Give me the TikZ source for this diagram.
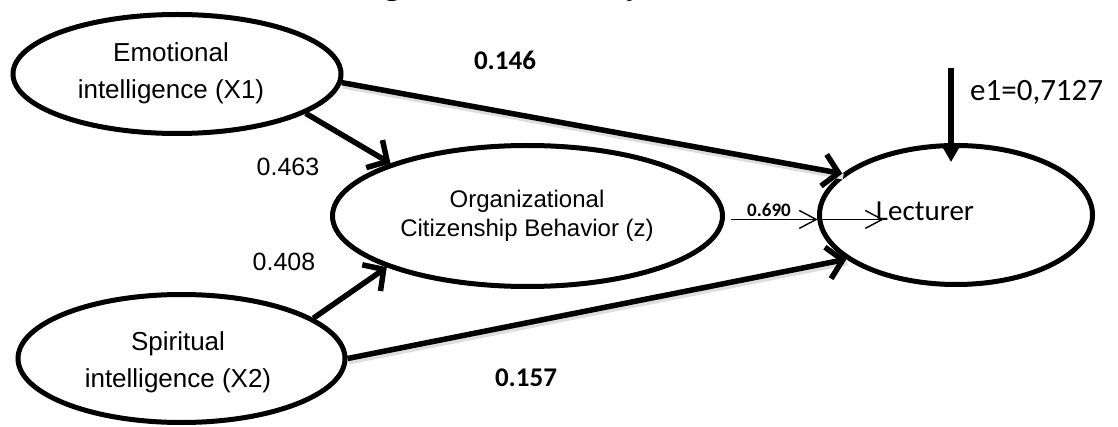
\documentclass[tikz,border=0pt]{standalone}
\usepackage{fontspec}
\usetikzlibrary{arrows.meta,shapes.geometric}
\newfontfamily\arialf{Liberation Sans}
\newfontfamily\califont{Carlito}
\newfontfamily\titlef{Liberation Serif}
\begin{document}
\begin{tikzpicture}[x=1pt,y=-1pt,
  ell/.style={draw, ellipse, line width=5pt, inner sep=0pt},
  lbl/.style={align=center, inner sep=0pt, font=\arialf\fontsize{26}{37}\selectfont},
  thickarr/.style={line width=5.5pt, -{Straight Barb[length=15pt,width=32pt]}},
  thinarr/.style={line width=1.4pt, -{Straight Barb[length=17pt,width=18pt]}},
  shadowline/.style={line width=6pt, draw=black!13, transform canvas={xshift=1pt,yshift=-3pt}},
  coef/.style={inner sep=0pt, font=\arialf\fontsize{25}{30}\selectfont},
  bcoef/.style={inner sep=0pt, font=\califont\bfseries\fontsize{27}{30}\selectfont}]
\useasboundingbox (0,0) rectangle (1118,427);
\begin{scope}
\clip (0,0) rectangle (1118,427);
\node[anchor=base, inner sep=0pt, font=\titlef\bfseries\fontsize{32}{36}\selectfont] (title) at (516,-5) {Figure 2. Path Analysis};
\end{scope}
% ellipses
\node[ell, minimum width=328pt, minimum height=119pt] (x1) at (177,74) {};
\node[ell, minimum width=327pt, minimum height=128pt] (x2) at (181.5,358.5) {};
\node[ell, minimum width=390pt, minimum height=141pt] (ocb) at (527.5,216) {};
\node[ell, minimum width=273pt, minimum height=139pt] (lect) at (956,215) {};
% texts
\node[lbl] (x1t) at (171,73) {Emotional\\intelligence (X1)};
\node[lbl] (x2t) at (178,362) {Spiritual\\intelligence (X2)};
\node[lbl, font=\arialf\fontsize{24}{29}\selectfont] (ocbt) at (527,216) {Organizational\\Citizenship Behavior (z)};
\node[inner sep=0pt, font=\califont\fontsize{29}{32}\selectfont] (lecttxt) at (925,211) {Lecturer};
\node[anchor=west, inner sep=0pt, font=\califont\fontsize{31}{34}\selectfont] (e1) at (970,92) {e1=0,7127};
% coefficients
\node[coef] (c463) at (288,167) {0.463};
\node[coef] (c408) at (284,262) {0.408};
\node[bcoef] (c146) at (505,60) {0.146};
\node[bcoef] (c157) at (526,378) {0.157};
\node[inner sep=0pt, font=\califont\bfseries\fontsize{19}{20}\selectfont] (c690) at (769,210) {0.690};
% shadows
\draw[shadowline] (x1.-3) -- (lect.160);
\draw[shadowline] (x2.0) -- (lect.202);
% thick arrows
\draw[thickarr] (x1.-3) -- (lect.160);
\draw[thickarr] (x1.-17) -- (ocb.159);
\draw[thickarr] (x2.17) -- (ocb.200);
\draw[thickarr] (x2.0) -- (lect.202);
% error arrow
\coordinate (e1top) at (951,68);
\draw[line width=5.5pt, -{Triangle[length=14pt,width=15pt]}] (e1top) -- ([xshift=-5pt,yshift=-19pt]lect.north);
% thin arrows
\path (ocb.-1.7) ++(6,0) coordinate (t0);
\coordinate (t1) at (t0 -| lect.183);
\path (t0 -| lecttxt.west) ++(8,0) coordinate (t2);
\draw[thinarr] (t0) -- (t1);
\draw[thinarr] (t1) -- (t2);
\end{tikzpicture}
\end{document}
